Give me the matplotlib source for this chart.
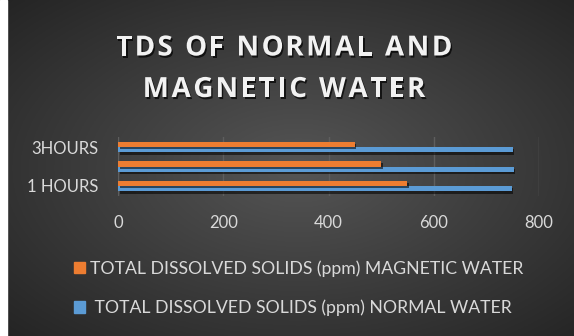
import matplotlib
matplotlib.use("Agg")
import matplotlib.pyplot as plt
import matplotlib.patheffects as pe
from matplotlib.patches import Patch, Rectangle
import numpy as np

# data
categories = ["1 HOURS", "2 HOURS", "3HOURS"]
tick_labels = ["1 HOURS", "", "3HOURS"]
normal_water = [748, 752, 750]
magnetic_water = [550, 500, 450]
series_labels = ["TOTAL DISSOLVED SOLIDS (ppm) MAGNETIC WATER",
                 " TOTAL DISSOLVED SOLIDS (ppm) NORMAL WATER"]
title_lines = ["TDS OF NORMAL AND", "MAGNETIC WATER"]

C_BLUE = "#5b9bd5"
C_ORANGE = "#ed7d31"
C_TEXT = "#d9d9d9"
FONT = "Lato"

W, H = 574, 336
fig = plt.figure(figsize=(W / 100, H / 100), dpi=100)
renderer = fig.canvas.get_renderer()

# radial gradient background
bg = fig.add_axes([0, 0, 1, 1], zorder=-10)
yy, xx = np.mgrid[0:1:200j, 0:1:300j]
r = np.sqrt(((xx - 0.52) / 0.75) ** 2 + ((yy - 0.5) / 0.75) ** 2)
r = np.clip(r, 0, 1)
c0 = np.array([0x55, 0x55, 0x55]) / 255
c1 = np.array([0x22, 0x22, 0x22]) / 255
img = c0[None, None, :] * (1 - r[..., None]) + c1[None, None, :] * r[..., None]
bg.imshow(img, aspect="auto", extent=[0, 1, 0, 1], origin="lower")
bg.set_axis_off()
fig.patches.append(Rectangle((0, 0), 7 / W, 1, transform=fig.transFigure,
                             color="white", zorder=5))

ax = fig.add_axes([118 / W, (H - 195.75) / H, 421 / W, 58.5 / H])
ax.set_facecolor("none")
y = np.arange(len(categories))
h = 0.28
shadow = [pe.SimplePatchShadow(offset=(1.2, -1.5), shadow_rgbFace="black", alpha=0.55), pe.Normal()]
ax.barh(y - h / 2, normal_water, height=h, color=C_BLUE, path_effects=shadow, zorder=3)
ax.barh(y + h / 2, magnetic_water, height=h, color=C_ORANGE, path_effects=shadow, zorder=3)

ax.set_xlim(0, 800)
ax.set_ylim(-0.5, 2.5)
ax.set_xticks([0, 200, 400, 600, 800])
ax.set_yticks(y)
ax.set_yticklabels(tick_labels)
ax.grid(axis="x", color="#5e5e5e", linewidth=1.0, zorder=0)
for s in ax.spines.values():
    s.set_visible(False)
ax.tick_params(length=0, colors=C_TEXT, labelsize=12)
ax.tick_params(axis="x", pad=14)
ax.tick_params(axis="y", pad=14)
for lab in ax.get_xticklabels() + ax.get_yticklabels():
    lab.set_fontfamily(FONT)


# title: matplotlib has no letter spacing, so place the characters one by one
title_kw = dict(color="#f2f2f2", fontsize=20, fontweight="bold", family="Open Sans",
                va="center_baseline", ha="left",
                path_effects=[pe.withSimplePatchShadow(offset=(1, -1.5), shadow_rgbFace="black", alpha=0.7)])


def _w(s):
    t = fig.text(0, 0, s, **title_kw)
    w = t.get_window_extent(renderer).width
    t.remove()
    return w


def spaced_line(text, yc, xc=284, extra=2.6):
    base = _w("XX")
    adv = [_w("X" + ch + "X") - base for ch in text]
    total = sum(adv) + extra * (len(text) - 1)
    x = xc - total / 2
    for ch, a in zip(text, adv):
        if ch != " ":
            fig.text(x / W, (H - yc) / H, ch, **title_kw)
        x += a + extra


for line, yc in zip(title_lines, [44.5, 86]):
    spaced_line(line, yc)

handles = [Patch(color=C_ORANGE), Patch(color=C_BLUE)]
leg = fig.legend(handles, series_labels, loc="center left",
                 bbox_to_anchor=(74 / W, (H - 288) / H), frameon=False,
                 prop={"family": FONT, "size": 12.7}, labelcolor=C_TEXT,
                 handlelength=0.62, handleheight=0.62, handletextpad=0.3,
                 labelspacing=1.3, borderpad=0, borderaxespad=0)

fig.savefig("out.png", dpi=100)
